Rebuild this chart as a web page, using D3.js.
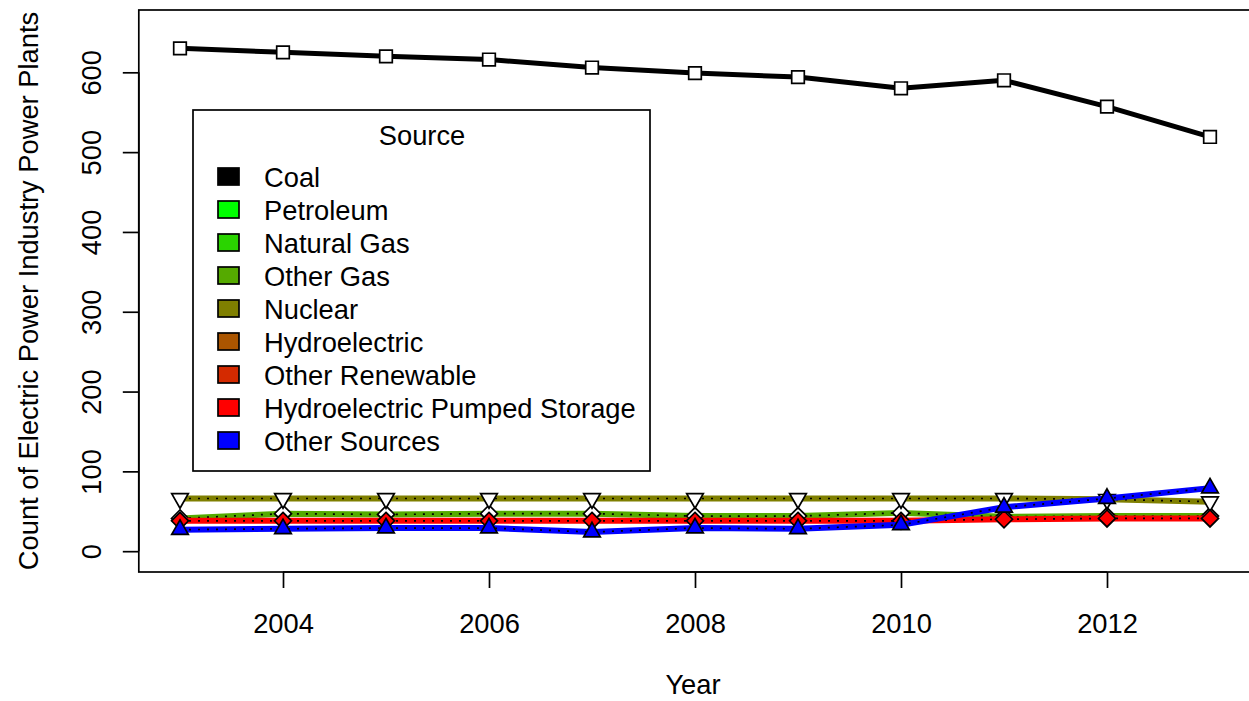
<!DOCTYPE html>
<html>
<head>
<meta charset="utf-8">
<script src="https://cdn.jsdelivr.net/npm/d3@7"></script>
<style>
  body { margin: 0; background: #fff; }
  svg { display: block; font-family: "Liberation Sans", Arial, sans-serif; }
</style>
</head>
<body>
<div id="chart"></div>
<script>
// data
const years = [2003, 2004, 2005, 2006, 2007, 2008, 2009, 2010, 2011, 2012, 2013];
const coal = [630, 625, 620, 616, 606, 599, 594, 580, 590, 557, 519];
const otherGas = [41, 47, 46, 47, 47, 44, 44, 48, 43, 44, 44];
const nuclear = [66, 66, 66, 66, 66, 66, 66, 66, 66, 65, 62];
const pumpedStorage = [38, 38, 38, 38, 38, 38, 38, 38, 40, 41, 41];
const otherSources = [27, 28, 29, 29, 24, 29, 28, 33, 55, 66, 79];
const sourceNames = ["Coal", "Petroleum", "Natural Gas", "Other Gas", "Nuclear",
  "Hydroelectric", "Other Renewable", "Hydroelectric Pumped Storage", "Other Sources"];
const sourceColors = ["#000000", "#00FF00", "#2AD400", "#55AA00", "#7F7F00",
  "#AA5500", "#D42A00", "#FF0000", "#0000FF"];
const xTicks = [2004, 2006, 2008, 2010, 2012];
const yTicks = [0, 100, 200, 300, 400, 500, 600];

// series drawn in order (the others only show in the legend)
const series = [
  {name: "Coal", values: coal, shape: "square", fill: "#fff", width: 5, dots: false},
  {name: "Other Gas", values: otherGas, shape: "diamond", fill: "#fff", width: 6, dots: true},
  {name: "Nuclear", values: nuclear, shape: "down", fill: "#fff", width: 6, dots: true},
  {name: "Hydroelectric Pumped Storage", values: pumpedStorage, shape: "diamond", fill: "#FF0000", width: 6, dots: true},
  {name: "Other Sources", values: otherSources, shape: "up", fill: "#0000FF", width: 6, dots: true}
];

// marker outlines, R pch style
const shapes = {
  square: "M-6.3,-6.3H6.3V6.3H-6.3Z",
  diamond: "M0,-8.5L8.5,0L0,8.5L-8.5,0Z",
  up: "M0,-9.7L8.3,4.8H-8.3Z",
  down: "M0,9.7L8.3,-4.8H-8.3Z"
};

const W = 1249, H = 701;
const box = {left: 138.8, right: 1251.2, top: 10, bottom: 572};
const fs = 27.3;

const svg = d3.select("#chart").append("svg")
  .attr("width", W).attr("height", H);

// R style 4% extension
const x = d3.scaleLinear().domain([2002.6, 2013.4]).range([box.left, box.right]);
const ylo = 0, yhi = 652, ext = (yhi - ylo) * 0.04;
const y = d3.scaleLinear().domain([ylo - ext, yhi + ext]).range([box.bottom, box.top]);

const plot = svg.append("g");

series.forEach(function(s) {
  const color = sourceColors[sourceNames.indexOf(s.name)];
  const line = d3.line()
    .x(function(d, i) { return x(years[i]); })
    .y(function(d) { return y(d); });
  plot.append("path")
    .datum(s.values)
    .attr("fill", "none")
    .attr("stroke", color)
    .attr("stroke-width", s.width)
    .attr("stroke-linejoin", "round")
    .attr("d", line);
  if (s.dots) {
    plot.append("path")
      .datum(s.values)
      .attr("fill", "none")
      .attr("stroke", "#000")
      .attr("stroke-width", 1.7)
      .attr("stroke-dasharray", "2,7")
      .attr("d", line);
  }
  plot.selectAll(null)
    .data(s.values)
    .join("path")
    .attr("d", shapes[s.shape])
    .attr("transform", function(d, i) { return `translate(${x(years[i])}, ${y(d)})`; })
    .attr("fill", s.fill)
    .attr("stroke", "#000")
    .attr("stroke-width", 1.7);
});

// box
svg.append("rect")
  .attr("x", box.left).attr("y", box.top)
  .attr("width", box.right - box.left).attr("height", box.bottom - box.top)
  .attr("fill", "none").attr("stroke", "#000").attr("stroke-width", 1.7);

// X axis
const xAxis = svg.append("g")
  .attr("transform", `translate(0, ${box.bottom})`)
  .call(d3.axisBottom(x).tickValues(xTicks).tickFormat(d3.format("d")).tickSize(16));
xAxis.select(".domain").attr("d", `M${x(2004)},0H${x(2012)}`).attr("stroke-width", 1.7);
xAxis.selectAll(".tick line").attr("stroke-width", 1.7);
xAxis.selectAll(".tick text").attr("font-size", fs).attr("font-family", "Liberation Sans, Arial, sans-serif")
  .attr("dy", null).attr("y", 60.5);

// Y axis
const yAxis = svg.append("g")
  .attr("transform", `translate(${box.left}, 0)`)
  .call(d3.axisLeft(y).tickValues(yTicks).tickSize(16));
yAxis.select(".domain").attr("d", `M0,${y(0)}V${y(600)}`).attr("stroke-width", 1.7);
yAxis.selectAll(".tick line").attr("stroke-width", 1.7);
yAxis.selectAll(".tick text")
  .attr("font-size", fs).attr("font-family", "Liberation Sans, Arial, sans-serif")
  .attr("x", null).attr("dy", null)
  .attr("text-anchor", "middle")
  .attr("transform", "translate(-37.5, 0) rotate(-90)");

// axis titles
svg.append("text")
  .attr("x", (box.left + box.right) / 2 - 2).attr("y", 694)
  .attr("text-anchor", "middle").attr("font-size", fs)
  .text("Year");
svg.append("text")
  .attr("transform", `translate(38, ${(box.top + box.bottom) / 2}) rotate(-90)`)
  .attr("text-anchor", "middle").attr("font-size", fs)
  .text("Count of Electric Power Industry Power Plants");

// legend
const lg = svg.append("g");
lg.append("rect")
  .attr("x", 193).attr("y", 110).attr("width", 457).attr("height", 361)
  .attr("fill", "#fff").attr("stroke", "#000").attr("stroke-width", 1.7);
lg.append("text")
  .attr("x", 422).attr("y", 145)
  .attr("text-anchor", "middle").attr("font-size", fs)
  .text("Source");
sourceNames.forEach(function(name, i) {
  const cy = 177 + i * 33;
  lg.append("rect")
    .attr("x", 218).attr("y", cy - 9).attr("width", 21).attr("height", 17)
    .attr("fill", sourceColors[i]).attr("stroke", "#000").attr("stroke-width", 1.7);
  lg.append("text")
    .attr("x", 264).attr("y", cy + 9.5)
    .attr("font-size", fs)
    .text(name);
});
</script>
</body>
</html>
